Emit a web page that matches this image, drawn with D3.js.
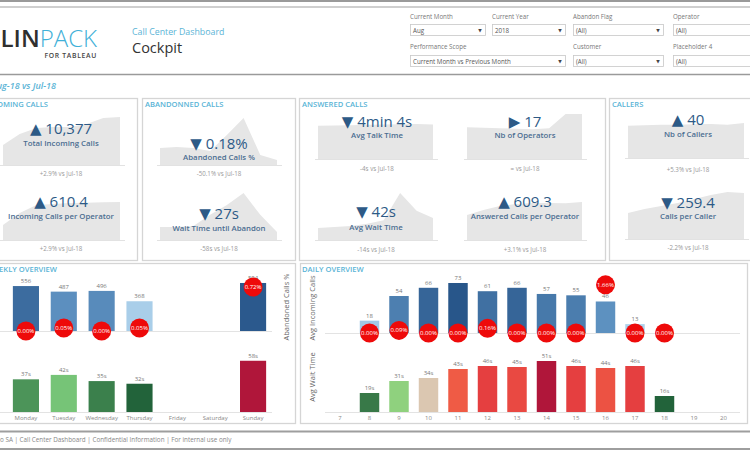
<!DOCTYPE html>
<html><head><meta charset="utf-8">
<script src="https://cdn.jsdelivr.net/npm/d3@7"></script>
<style>
body{margin:0;background:#fff;}
svg{display:block;font-family:"Open Sans","Noto Sans","DejaVu Sans",sans-serif;}
</style></head><body>
<svg id="c" width="750" height="450"></svg>
<script>
// ---------------- DATA ----------------
const months = ["Jan-18","Feb-18","Mar-18","Apr-18","May-18","Jun-18","Jul-18","Aug-18"];
const kpiNames = ["Total Incoming Calls","Incoming Calls per Operator","Abandoned Calls %","Wait Time until Abandon","Avg Talk Time","Nb of Operators","Avg Wait Time","Answered Calls per Operator","Nb of Callers","Calls per Caller"];
const kpiValues = ["10,377","610.4","0.18%","27s","4min 4s","17","42s","609.3","40","259.4"];
const kpiArrows = ["▲","▲","▼","▼","▼","▶","▼","▲","▲","▼"];
const kpiComparisons = ["+2.9% vs Jul-18","+2.9% vs Jul-18","-50.1% vs Jul-18","-58s vs Jul-18","-4s vs Jul-18","= vs Jul-18","-14s vs Jul-18","+3.1% vs Jul-18","+5.3% vs Jul-18","-2.2% vs Jul-18"];
const sparkIncoming = [4320, 6700, 8000, 8210, 8220, 8860, 10160, 10377];
const sparkCallsPerOperator = [241, 434, 562, 578, 594, 598, 606, 610.4];
const sparkAbandonPct = [0.61, 0.65, 0.61, 0.50, 1.08, 1.69, 0.36, 0.18];
const sparkWaitAbandon = [44, 44, 47, 85, 118, 159, 85, 27];
const sparkTalkTime = [235, 238, 240, 242, 245, 246, 248, 244];
const sparkOperators = [12, 11.8, 11.6, 11.4, 11.2, 11.6, 17, 17];
const sparkWaitTime = [23, 25, 27, 31, 38, 90, 56, 42];
const sparkAnsweredPerOperator = [401, 481, 545, 577, 593, 593, 591, 609.3];
const sparkCallers = [37, 37.5, 38, 38, 38.5, 39, 38, 40];
const sparkCallsPerCaller = [147, 169, 186, 203, 226, 248, 265, 259.4];

const days = ["Monday","Tuesday","Wednesday","Thursday","Friday","Saturday","Sunday"];
const weeklyCalls = [556, 487, 496, 368, null, null, 594];
const weeklyAbandonPct = [0.00, 0.05, 0.00, 0.05, null, null, 0.72];
const weeklyWait = [37, 42, 35, 32, null, null, 58];

const hours = [7,8,9,10,11,12,13,14,15,16,17,18,19,20];
const dailyCalls = [null, 18, 54, 66, 73, 61, 66, 57, 55, 46, 13, null, null, null];
const dailyAbandonPct = [null, 0.00, 0.09, 0.00, 0.00, 0.16, 0.00, 0.00, 0.00, 1.66, 0.00, 0.00, null, null];
const dailyWait = [null, 19, 31, 34, 43, 46, 45, 51, 46, 44, 46, 16, null, null];

const filterLabels = ["Current Month","Current Year","Abandon Flag","Operator","Performance Scope","Customer","Placeholder 4"];
const filterValues = ["Aug","2018","(All)","(All)","Current Month vs Previous Month","(All)","(All)"];
const footerText = "o SA | Call Center Dashboard  | Confidential Information | For internal use only";

// ---------------- DRAW ----------------
const svg = d3.select("#c");
const BLUE = "#5ab4d6", BORDER = "#d5d5d5";

// header lines
svg.append("rect").attr("x",0).attr("y",0).attr("width",750).attr("height",2).attr("fill","#9a9a9a");
svg.append("line").attr("x1",0).attr("x2",750).attr("y1",7).attr("y2",7).attr("stroke","#a0a0a0").attr("stroke-width",1.2);
svg.append("line").attr("x1",0).attr("x2",750).attr("y1",74.5).attr("y2",74.5).attr("stroke","#9a9a9a").attr("stroke-width",1.5);

// logo
const logo = svg.append("text").attr("x",97).attr("y",46.5).attr("text-anchor","end").attr("font-size",24);
logo.append("tspan").text("LIN").attr("fill","#2f2f2f").attr("font-weight",600);
logo.append("tspan").text("PACK").attr("fill","#3fb0d8").attr("font-weight",300);
svg.append("text").attr("x",97).attr("y",58).attr("text-anchor","end").attr("font-size",6.8).attr("font-weight",600)
  .attr("fill","#444").attr("letter-spacing",0.7).text("FOR TABLEAU");
svg.append("text").attr("x",132).attr("y",35).attr("font-size",8.8).attr("fill",BLUE).text("Call Center Dashboard");
svg.append("text").attr("x",132).attr("y",52.5).attr("font-size",14.5).attr("fill","#333").text("Cockpit");

// filters
const filterLayout = [{x:410,w:75,r:0},{x:492,w:73,r:0},{x:573,w:90,r:0},{x:673,w:90,r:0},{x:410,w:155,r:1},{x:573,w:90,r:1},{x:673,w:90,r:1}];
filterLabels.forEach((lab,i)=>{
  const L = filterLayout[i], ly = L.r===0 ? 19 : 49, by = L.r===0 ? 24.5 : 55.5;
  svg.append("text").attr("x",L.x).attr("y",ly).attr("font-size",6.2).attr("fill","#777").text(lab);
  svg.append("rect").attr("x",L.x+0.5).attr("y",by).attr("width",L.w).attr("height",11).attr("fill","#fff").attr("stroke","#c8c8c8").attr("stroke-width",0.8);
  svg.append("text").attr("x",L.x+3).attr("y",by+8).attr("font-size",6.2).attr("fill","#555").text(filterValues[i]);
  svg.append("text").attr("x",L.x+L.w-5).attr("y",by+7.5).attr("font-size",4.5).attr("text-anchor","middle").attr("fill","#444").text("▼");
});

// scope label
svg.append("text").attr("x",56).attr("y",89).attr("text-anchor","end").attr("font-size",9).attr("font-style","italic")
  .attr("font-weight",600).attr("fill",BLUE).text("Aug-18 vs Jul-18");

// panels
const panels = [[-5,98,142,162],[142,98,153,162],[299,98,306,162],[609,98,150,162],[-5,263,300,160],[300,263,447,160]];
panels.forEach(p=>svg.append("rect").attr("x",p[0]+0.5).attr("y",p[1]+0.5).attr("width",p[2]).attr("height",p[3])
  .attr("fill","none").attr("stroke",BORDER).attr("stroke-width",1.3));
const titles = [["INCOMING CALLS",48,107,"end"],["ABANDONNED CALLS",145,107,"start"],["ANSWERED CALLS",302,107,"start"],["CALLERS",612,107,"start"],
  ["WEEKLY OVERVIEW",57,272,"end"],["DAILY OVERVIEW",302,272,"start"]];
titles.forEach(t=>svg.append("text").attr("x",t[1]).attr("y",t[2]).attr("text-anchor",t[3]).attr("font-size",7.6)
  .attr("font-weight",600).attr("fill",BLUE).text(t[0]));

// KPIs
const sparks = [sparkIncoming,sparkCallsPerOperator,sparkAbandonPct,sparkWaitAbandon,sparkTalkTime,sparkOperators,sparkWaitTime,sparkAnsweredPerOperator,sparkCallers,sparkCallsPerCaller];
const kpiLayout = [
 {cx:61,x0:3,x1:120,base:165,h:48,vy:134,ly:146,cy:176},
 {cx:61,x0:3,x1:120,base:240,h:38,vy:207,ly:219,cy:251},
 {cx:219,x0:160,x1:277,base:165,h:47,vy:149,ly:160,cy:176},
 {cx:219,x0:160,x1:277,base:240,h:47,vy:219,ly:231,cy:251},
 {cx:377,x0:318,x1:433,base:159,h:35,vy:127,ly:138,cy:171},
 {cx:525,x0:467,x1:582,base:159,h:45,vy:127,ly:138,cy:171},
 {cx:376,x0:318,x1:433,base:240,h:47,vy:217,ly:230,cy:252},
 {cx:525,x0:467,x1:582,base:240,h:38,vy:207,ly:219,cy:252},
 {cx:688,x0:628,x1:744,base:158,h:35,vy:125,ly:137,cy:172},
 {cx:688,x0:628,x1:744,base:239,h:47,vy:208,ly:219,cy:250}
];
kpiLayout.forEach((L,i)=>{
  const data = sparks[i];
  const x = d3.scalePoint().domain(months).range([L.x0,L.x1]);
  const y = d3.scaleLinear().domain([0,d3.max(data)]).range([L.base,L.base-L.h]);
  const area = d3.area().x((d,j)=>x(months[j])).y0(L.base).y1(d=>y(d));
  svg.append("path").datum(data).attr("d",area).attr("fill","#e6e6e6");
  svg.append("line").attr("x1",L.x0-3).attr("x2",L.x1+5).attr("y1",L.base+0.5).attr("y2",L.base+0.5).attr("stroke","#e2e2e2");
  svg.append("text").attr("x",L.cx).attr("y",L.vy).attr("text-anchor","middle").attr("font-size",15).attr("fill","#2d5a86")
    .text(kpiArrows[i]+" "+kpiValues[i]);
  svg.append("text").attr("x",L.cx).attr("y",L.ly).attr("text-anchor","middle").attr("font-size",7.8).attr("font-weight",600).attr("fill","#4b6d91")
    .text(kpiNames[i]);
  svg.append("text").attr("x",L.cx).attr("y",L.cy).attr("text-anchor","middle").attr("font-size",6.2).attr("fill","#999")
    .text(kpiComparisons[i]);
});

// color scales
const blueW = d3.scaleLinear().domain([360,480,600]).range(["#aed2ec","#5f93c2","#28568a"]);
const blueD = d3.scaleLinear().domain([13,45,73]).range(["#aed2ec","#5f93c2","#28568a"]);
const waitW = d3.scaleLinear().domain([32,42,47,52,55,58]).range(["#22633a","#76c477","#dbc7b1","#ef5b45","#e2363e","#b0163a"]);
const waitD = d3.scaleLinear().domain([16,31,34,43,47,51]).range(["#22633a","#8fd17e","#dbc7b1","#ef5b45","#e2363e","#b0163a"]);

function barChart(cats, xs, vals, ys, color, fmt){
  cats.forEach((c,i)=>{
    const v = vals[i]; if(v==null) return;
    svg.append("rect").attr("x",xs(c)).attr("y",ys(v)).attr("width",xs.bandwidth()).attr("height",ys(0)-ys(v)).attr("fill",color(v));
    svg.append("text").attr("x",xs(c)+xs.bandwidth()/2).attr("y",ys(v)-3).attr("text-anchor","middle")
      .attr("font-size",6).attr("fill","#777").text(fmt(v));
  });
}
function circles(cats, xs, vals, ys){
  cats.forEach((c,i)=>{
    const v = vals[i]; if(v==null) return;
    const cx = xs(c)+xs.bandwidth()/2, cy = ys(v);
    svg.append("circle").attr("cx",cx).attr("cy",cy).attr("r",9.5).attr("fill","#ee0a0a");
    svg.append("text").attr("x",cx).attr("y",cy+2).attr("text-anchor","middle").attr("font-size",6).attr("fill","#fff").text(v.toFixed(2)+"%");
  });
}

// weekly
const xW = d3.scaleBand().domain(days).range([7,272]).paddingInner(0.31).paddingOuter(0.155);
const yWc = d3.scaleLinear().domain([0,600]).range([331,282.5]);
const yWa = d3.scaleLinear().domain([0,1]).range([331,270]);
const yWw = d3.scaleLinear().domain([0,60]).range([412,359]);
svg.append("line").attr("x1",0).attr("x2",272).attr("y1",331.5).attr("y2",331.5).attr("stroke","#e3e3e3");
svg.append("line").attr("x1",0).attr("x2",272).attr("y1",412.5).attr("y2",412.5).attr("stroke","#e3e3e3");
barChart(days,xW,weeklyCalls,yWc,blueW,v=>String(v));
circles(days,xW,weeklyAbandonPct,yWa);
barChart(days,xW,weeklyWait,yWw,waitW,v=>v+"s");
days.forEach(d=>svg.append("text").attr("x",xW(d)+xW.bandwidth()/2).attr("y",420).attr("text-anchor","middle")
  .attr("font-size",6).attr("fill","#888").text(d));
svg.append("text").attr("transform","translate(289,307) rotate(-90)").attr("text-anchor","middle").attr("font-size",7.5).attr("fill","#666").text("Abandoned Calls %");

// daily
const xD = d3.scaleBand().domain(hours).range([325.25,738.25]).paddingInner(0.34).paddingOuter(0.17);
const yDc = d3.scaleLinear().domain([0,80]).range([333,278.2]);
const yDa = d3.scaleLinear().domain([0,2]).range([333,275]);
const yDw = d3.scaleLinear().domain([0,60]).range([412,352]);
svg.append("line").attr("x1",325).attr("x2",740).attr("y1",333.5).attr("y2",333.5).attr("stroke","#e3e3e3");
svg.append("line").attr("x1",325).attr("x2",740).attr("y1",412.5).attr("y2",412.5).attr("stroke","#e3e3e3");
barChart(hours,xD,dailyCalls,yDc,blueD,v=>String(v));
circles(hours,xD,dailyAbandonPct,yDa);
barChart(hours,xD,dailyWait,yDw,waitD,v=>v+"s");
const axisD = svg.append("g").attr("transform","translate(0,413)").call(d3.axisBottom(xD).tickSize(0).tickPadding(3));
axisD.select(".domain").remove();
axisD.selectAll("text").attr("font-size",6).attr("fill","#888").attr("font-family","Open Sans");
svg.append("text").attr("transform","translate(315,308) rotate(-90)").attr("text-anchor","middle").attr("font-size",7.5).attr("fill","#666").text("Avg Incoming Calls");
svg.append("text").attr("transform","translate(315,377) rotate(-90)").attr("text-anchor","middle").attr("font-size",7.5).attr("fill","#666").text("Avg Wait Time");

// footer
svg.append("rect").attr("x",0).attr("y",430.5).attr("width",750).attr("height",2).attr("fill","#9e9e9e");
svg.append("rect").attr("x",0).attr("y",448).attr("width",750).attr("height",2).attr("fill","#9e9e9e");
svg.append("text").attr("x",0).attr("y",442).attr("font-size",6.3).attr("fill","#888").text(footerText);
</script></body></html>
